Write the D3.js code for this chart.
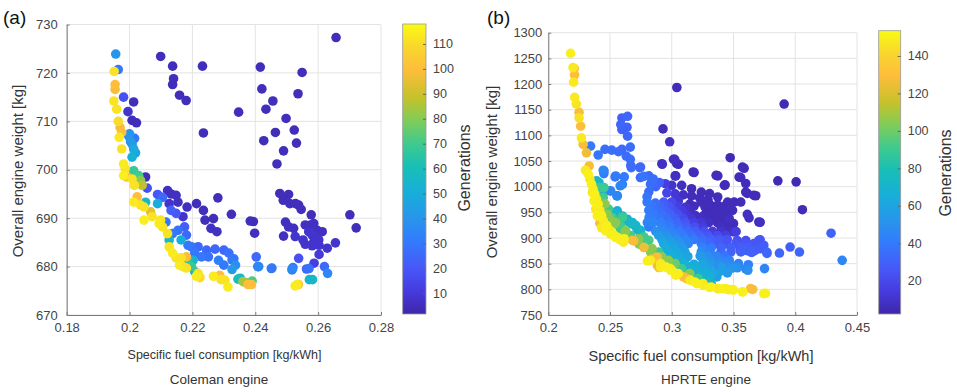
<!DOCTYPE html>
<html>
<head>
<meta charset="utf-8">
<script src="https://cdn.jsdelivr.net/npm/d3@7"></script>
<style>
  body { margin: 0; background: #fff; }
  svg { font-family: "Liberation Sans", Arial, sans-serif; }
</style>
</head>
<body>
<svg id="chart" width="957" height="392"></svg>
<script>
// [specific fuel consumption, overall weight, generation]
const colemanPoints = [
  [0.1956, 723.9, 40], [0.1964, 720.7, 30], [0.1951, 720.3, 112], [0.1954, 717.6, 100], [0.1954, 716.6, 98],
  [0.1950, 714.2, 112], [0.1981, 715.0, 18], [0.2013, 714.0, 5], [0.1995, 712.0, 8], [0.2008, 710.2, 5],
  [0.2022, 709.7, 5], [0.1959, 712.5, 112], [0.1964, 710.0, 110], [0.1967, 706.7, 114], [0.1975, 707.7, 100],
  [0.1970, 708.7, 98], [0.1997, 707.0, 35], [0.2008, 705.3, 38], [0.2013, 704.3, 48], [0.2008, 702.6, 52],
  [0.2000, 707.4, 40], [0.2019, 703.5, 45], [0.2003, 705.8, 42], [0.2016, 706.5, 30],
  [0.1975, 704.3, 112], [0.1981, 701.2, 114], [0.1986, 700.2, 112], [0.1981, 698.8, 115],
  [0.1991, 698.5, 100], [0.2008, 698.1, 112], [0.2013, 699.8, 68], [0.2029, 698.8, 70], [0.2035, 697.8, 80],
  [0.2040, 696.8, 88], [0.2051, 698.5, 5], [0.2056, 696.2, 18], [0.2015, 696.8, 112], [0.2013, 693.3, 114],
  [0.2024, 694.4, 100], [0.2051, 693.3, 55], [0.2035, 692.7, 112], [0.2046, 692.3, 112], [0.2046, 689.6, 115],
  [0.2067, 691.3, 95], [0.2072, 690.3, 112], [0.2089, 694.9, 20], [0.2089, 693.0, 50], [0.2105, 694.3, 25],
  [0.2121, 695.7, 6], [0.2132, 695.0, 6], [0.2148, 694.7, 6], [0.2126, 693.0, 8], [0.2154, 693.3, 6],
  [0.2132, 691.6, 22], [0.2148, 691.0, 20], [0.2170, 690.3, 8], [0.2183, 692.3, 6], [0.2213, 693.0, 5],
  [0.2281, 694.2, 5], [0.2235, 691.6, 5], [0.2240, 689.6, 5], [0.2267, 689.9, 5], [0.2259, 687.9, 6],
  [0.2278, 687.2, 6], [0.2324, 690.8, 5], [0.2099, 689.6, 112], [0.2094, 688.9, 114], [0.2116, 689.2, 30],
  [0.2105, 688.2, 112], [0.2121, 686.8, 112], [0.2126, 685.5, 55], [0.2137, 686.8, 30], [0.2154, 687.5, 28],
  [0.2175, 688.2, 22], [0.2181, 686.5, 25], [0.2164, 685.5, 50], [0.2186, 684.4, 30], [0.2197, 684.1, 28],
  [0.2218, 684.1, 25], [0.2245, 683.4, 25], [0.2272, 683.6, 25], [0.2300, 683.4, 25], [0.2316, 682.8, 28],
  [0.2332, 681.6, 30], [0.2337, 680.3, 38], [0.2326, 679.4, 42], [0.2300, 680.3, 30], [0.2283, 681.3, 32],
  [0.2251, 682.0, 28], [0.2229, 682.0, 30], [0.2207, 682.8, 30], [0.2126, 684.1, 112], [0.2137, 682.8, 114],
  [0.2148, 681.8, 112], [0.2164, 681.8, 112], [0.2181, 682.0, 100], [0.2186, 681.3, 65], [0.2159, 680.3, 114],
  [0.2170, 680.0, 112], [0.2181, 679.7, 112], [0.2197, 680.0, 68], [0.2202, 681.3, 52], [0.2207, 679.0, 55],
  [0.2218, 678.6, 112], [0.2224, 677.7, 110], [0.2213, 678.0, 114], [0.2267, 678.0, 114], [0.2287, 678.2, 100],
  [0.2303, 677.2, 112], [0.2313, 675.8, 114], [0.2291, 677.3, 112], [0.2345, 677.4, 60], [0.2361, 676.9, 85],
  [0.2377, 676.3, 100], [0.2388, 676.3, 100], [0.2390, 677.0, 72], [0.2370, 676.7, 80], [0.2403, 682.0, 25],
  [0.2408, 680.0, 28], [0.2398, 686.9, 6], [0.2394, 689.3, 5], [0.2451, 679.6, 30], [0.2517, 679.3, 32],
  [0.2520, 679.8, 30], [0.2527, 676.0, 114], [0.2537, 676.3, 100], [0.2571, 679.6, 28], [0.2582, 677.3, 55],
  [0.2538, 681.7, 18], [0.2657, 727.3, 5], [0.2416, 721.2, 5], [0.2549, 720.1, 5], [0.2421, 716.7, 5],
  [0.2536, 715.7, 5], [0.2456, 714.2, 5], [0.2434, 712.5, 5], [0.2347, 711.9, 5], [0.2498, 710.6, 5],
  [0.2524, 708.2, 5], [0.2464, 707.7, 5], [0.2427, 706.0, 5], [0.2531, 705.5, 5], [0.2490, 703.9, 5],
  [0.2469, 701.2, 5], [0.2478, 695.1, 5], [0.2506, 694.9, 5], [0.2489, 693.7, 5], [0.2510, 693.0, 5],
  [0.2528, 693.0, 5], [0.2538, 692.7, 5], [0.2546, 691.8, 5], [0.2578, 690.7, 5], [0.2701, 690.7, 5],
  [0.2721, 688.0, 5], [0.2384, 689.4, 5], [0.2496, 689.2, 6], [0.2506, 688.2, 6], [0.2522, 687.9, 6],
  [0.2490, 686.3, 6], [0.2527, 686.2, 8], [0.2559, 688.6, 6], [0.2576, 688.6, 6], [0.2586, 688.9, 6],
  [0.2597, 687.5, 6], [0.2613, 687.2, 6], [0.2570, 687.2, 8], [0.2581, 686.5, 8], [0.2591, 686.2, 8],
  [0.2602, 685.5, 8], [0.2586, 685.1, 8], [0.2552, 685.5, 8], [0.2559, 684.6, 8], [0.2581, 684.3, 8],
  [0.2603, 684.4, 8], [0.2629, 683.8, 8], [0.2655, 684.9, 8], [0.2603, 682.5, 10], [0.2587, 680.7, 12],
  [0.2517, 679.5, 35], [0.2563, 679.5, 25], [0.2620, 680.0, 25], [0.2630, 678.6, 35], [0.2453, 679.7, 28],
  [0.2411, 680.0, 35], [0.2572, 677.3, 55], [0.2533, 676.3, 114], [0.2352, 677.6, 55], [0.2326, 681.4, 30],
  [0.2099, 723.4, 5], [0.2137, 721.4, 5], [0.2232, 721.4, 5], [0.2140, 718.8, 5], [0.2137, 717.6, 5],
  [0.2159, 715.4, 5], [0.2180, 714.3, 5], [0.2235, 707.6, 5]
];

const hprtePoints = [
  // yellow front
  [0.2180, 1259.7, 150], [0.2200, 1232.0, 148], [0.2210, 1230.0, 132], [0.2213, 1217.7, 130], [0.2205, 1203.6, 148],
  [0.2213, 1173.9, 148], [0.2227, 1161.0, 146], [0.2249, 1144.9, 128], [0.2249, 1134.0, 145], [0.2262, 1117.8, 130],
  [0.2268, 1095.2, 148], [0.2282, 1082.3, 128], [0.2309, 1066.0, 126], [0.2331, 1040.4, 128], [0.2301, 1032.0, 148],
  [0.2323, 1024.3, 150], [0.2336, 1014.6, 148], [0.2350, 1004.9, 150], [0.2357, 988.4, 148], [0.2370, 972.2, 150],
  [0.2384, 956.0, 148], [0.2397, 943.1, 150], [0.2424, 930.1, 128], [0.2418, 928.8, 126], [0.2432, 920.0, 148],
  [0.2465, 913.9, 150], [0.2505, 907.4, 148], [0.2546, 900.9, 150], [0.2600, 894.5, 148], [0.2363, 995.2, 148],
  [0.2377, 985.5, 150], [0.2391, 975.9, 148], [0.2404, 966.2, 150], [0.2418, 953.3, 148], [0.2432, 943.6, 150],
  [0.2445, 934.0, 148], [0.2473, 924.3, 150], [0.2500, 914.6, 148], [0.2527, 906.9, 150], [0.2555, 901.7, 148],
  [0.2582, 896.5, 150], [0.2609, 892.0, 148], [0.2614, 898.7, 150], [0.2681, 895.5, 128], [0.2803, 855.6, 150],
  [0.2843, 858.8, 128], [0.2884, 846.0, 126], [0.2911, 843.0, 148], [0.2828, 856.5, 148], [0.2882, 863.0, 128],
  [0.2910, 850.1, 148], [0.2896, 842.4, 126], [0.2951, 843.6, 150], [0.2991, 837.2, 148], [0.3032, 827.5, 150],
  [0.2947, 843.6, 148], [0.3000, 837.1, 150], [0.3053, 830.6, 148], [0.3120, 820.9, 128], [0.3186, 814.4, 150],
  [0.3253, 811.1, 148], [0.3319, 804.6, 150], [0.3372, 801.4, 148], [0.3439, 801.4, 150], [0.3492, 799.5, 148],
  [0.3572, 794.9, 150], [0.3638, 801.4, 128], [0.3745, 791.7, 150], [0.2987, 840.4, 148], [0.3041, 830.8, 150],
  [0.3095, 824.3, 128], [0.3149, 817.9, 148], [0.3203, 811.4, 150], [0.3257, 808.2, 148], [0.3305, 803.7, 150],
  [0.3378, 801.7, 148], [0.3420, 801.0, 150], [0.3460, 799.5, 148], [0.3500, 798.5, 150], [0.3575, 795.3, 148],
  [0.3656, 799.8, 128], [0.3759, 792.1, 150],
  // green / teal band
  [0.2391, 1011.3, 70], [0.2413, 998.4, 90], [0.2411, 1007.9, 72], [0.2451, 998.2, 90], [0.2411, 991.7, 70],
  [0.2432, 985.5, 72], [0.2438, 975.5, 92], [0.2445, 979.0, 90], [0.2451, 959.3, 70], [0.2459, 966.2, 105],
  [0.2478, 946.3, 105], [0.2486, 956.5, 90], [0.2514, 950.0, 70], [0.2519, 939.8, 92], [0.2546, 930.1, 105],
  [0.2548, 947.4, 70], [0.2555, 943.6, 72], [0.2495, 937.2, 105], [0.2536, 927.5, 105], [0.2586, 923.6, 92],
  [0.2582, 917.8, 90], [0.2595, 937.2, 70], [0.2601, 940.9, 90], [0.2623, 911.4, 105], [0.2627, 913.9, 105],
  [0.2637, 934.0, 70], [0.2654, 931.2, 72], [0.2664, 904.9, 92], [0.2667, 904.2, 90], [0.2677, 927.5, 70],
  [0.2694, 894.5, 126], [0.2707, 924.7, 72], [0.2718, 917.8, 70], [0.2732, 898.5, 105], [0.2735, 888.0, 105],
  [0.2746, 911.4, 70], [0.2746, 888.8, 90], [0.2747, 915.0, 72], [0.2773, 882.4, 105], [0.2775, 881.5, 126],
  [0.2774, 902.0, 90], [0.2814, 895.5, 92], [0.2828, 872.7, 105], [0.2840, 879.3, 105], [0.2894, 872.8, 90],
  [0.2920, 863.1, 105], [0.2973, 856.6, 105], [0.3027, 850.0, 100], [0.3080, 840.3, 90], [0.3146, 830.6, 105],
  [0.3213, 820.9, 90], [0.3279, 814.4, 75], [0.2559, 952.8, 65], [0.2600, 943.0, 65], [0.2640, 936.6, 65],
  [0.2681, 930.1, 65], [0.2708, 923.6, 62], [0.2735, 913.9, 62], [0.2762, 901.0, 65], [0.2802, 930.1, 45],
  [0.2816, 939.8, 42],
  // blue branch
  [0.2342, 1079.0, 40], [0.2404, 1061.7, 38], [0.2459, 1072.6, 35], [0.2514, 1071.3, 35], [0.2568, 1068.1, 35],
  [0.2596, 1072.6, 32], [0.2631, 1059.7, 35], [0.2664, 1053.3, 35], [0.2672, 1037.2, 35], [0.2740, 1037.2, 33],
  [0.2746, 1017.8, 35], [0.2814, 1021.0, 33], [0.2828, 1004.9, 35], [0.2596, 1133.9, 30], [0.2642, 1137.1, 32],
  [0.2587, 1121.0, 32], [0.2637, 1115.8, 30], [0.2596, 1111.3, 30], [0.2642, 1098.4, 32], [0.2664, 1077.1, 35],
  [0.2445, 1032.0, 45], [0.2450, 1025.5, 40], [0.2541, 1019.1, 40], [0.2615, 1019.1, 40], [0.2582, 1001.7, 45],
  [0.2500, 992.0, 45], [0.2555, 982.3, 45], [0.2451, 1030.6, 38], [0.2546, 1020.8, 40], [0.2600, 1004.6, 42],
  [0.2505, 991.7, 45], [0.2559, 982.0, 45], [0.2668, 1041.5, 35], [0.2747, 1038.3, 32],
  // scattered early generations
  [0.3041, 1193.2, 6], [0.2929, 1112.6, 6], [0.2983, 1087.5, 8], [0.2923, 1043.6, 6], [0.3024, 1053.3, 8],
  [0.3032, 1021.0, 8], [0.3910, 1161.0, 5], [0.3473, 1056.5, 5], [0.3586, 1035.9, 6], [0.3859, 1011.4, 5],
  [0.4007, 1009.4, 5], [0.4058, 955.2, 6], [0.4290, 909.4, 30], [0.4380, 856.5, 45], [0.3958, 882.4, 28],
  [0.4034, 872.7, 32], [0.3872, 870.7, 32], [0.3770, 872.7, 30], [0.3716, 879.1, 28], [0.3675, 875.9, 28],
  [0.3648, 872.0, 30], [0.3602, 875.9, 30], [0.3554, 875.9, 28], [0.3716, 896.5, 25], [0.3521, 912.6, 15],
  [0.3716, 930.7, 8], [0.3626, 939.1, 8], [0.3612, 946.0, 8], [0.3680, 982.3, 6], [0.3612, 986.8, 6],
  [0.3599, 1006.2, 6], [0.3558, 1017.8, 6], [0.3432, 1003.6, 6], [0.3373, 1021.0, 6], [0.3181, 1027.5, 6],
  [0.3027, 1021.0, 8], [0.3054, 1043.6, 6], [0.3014, 1053.3, 6], [0.3751, 840.4, 45], [0.3616, 837.2, 50],
  [0.3405, 843.6, 55], [0.3486, 841.0, 52], [0.3530, 842.0, 50], [0.3450, 832.0, 55], [0.3365, 824.3, 58],
  [0.2920, 1044.8, 8], [0.3040, 1044.8, 6], [0.3173, 1028.6, 6], [0.3359, 1022.1, 6], [0.3572, 1038.3, 5],
  [0.3545, 1018.8, 6], [0.3599, 989.6, 6], [0.3665, 983.1, 6], [0.3426, 1002.6, 6], [0.2841, 1012.3, 32],
  [0.2947, 1005.8, 15], [0.3000, 1002.6, 10], [0.3080, 1002.6, 8], [0.3160, 996.1, 6], [0.3239, 989.6, 6],
  [0.3306, 986.4, 6], [0.3372, 979.9, 6], [0.3452, 970.1, 6], [0.3505, 970.1, 6], [0.3559, 970.1, 6],
  [0.3492, 953.9, 6], [0.3465, 937.7, 8], [0.3505, 911.7, 10], [0.3705, 931.2, 6], [0.3705, 895.5, 22],
  // dense cloud
  [0.2773, 1020.0, 38], [0.2850, 1015.0, 35], [0.2900, 1008.0, 30], [0.2870, 1000.0, 32],
  [0.2814, 990.0, 35], [0.2960, 988.0, 18], [0.3027, 986.0, 12], [0.3093, 984.0, 8], [0.3160, 982.0, 6],
  [0.3226, 978.0, 6], [0.3293, 975.0, 6], [0.2800, 980.0, 38],
  [0.2800, 970.0, 40], [0.2867, 968.0, 35], [0.2934, 970.0, 28], [0.3000, 970.0, 20], [0.3053, 972.0, 12],
  [0.3146, 966.0, 6], [0.3239, 970.0, 6], [0.3306, 966.0, 6], [0.3372, 964.0, 6], [0.3426, 962.0, 6],
  [0.2840, 962.0, 38], [0.2907, 962.0, 32], [0.2975, 962.0, 25], [0.3040, 962.0, 16], [0.3110, 960.0, 10],
  [0.3180, 962.0, 6], [0.3270, 960.0, 6], [0.3340, 958.0, 6], [0.3400, 956.0, 6], [0.3470, 962.0, 6],
  [0.2814, 954.0, 40], [0.2880, 954.0, 35], [0.2947, 954.0, 30], [0.3013, 954.0, 22], [0.3080, 954.0, 14],
  [0.3146, 954.0, 8], [0.3293, 948.0, 6], [0.3359, 954.0, 6], [0.3426, 950.0, 6],
  [0.2850, 946.0, 40], [0.2920, 946.0, 36], [0.2990, 946.0, 30], [0.3050, 946.0, 22], [0.3120, 946.0, 12],
  [0.3190, 944.0, 8], [0.3260, 944.0, 6], [0.3320, 944.0, 6], [0.3390, 946.0, 6], [0.3440, 944.0, 6],
  [0.2827, 938.0, 42], [0.2894, 938.0, 38], [0.2960, 938.0, 34], [0.3027, 938.0, 28], [0.3093, 938.0, 20],
  [0.3160, 938.0, 12], [0.3239, 940.0, 8], [0.3346, 938.0, 6], [0.3412, 938.0, 6],
  [0.2850, 930.0, 45], [0.2910, 930.0, 42], [0.2975, 930.0, 38], [0.3040, 930.0, 32], [0.3110, 930.0, 25],
  [0.3175, 930.0, 16], [0.3240, 930.0, 12], [0.3300, 930.0, 8], [0.3370, 930.0, 6], [0.3430, 930.0, 6],
  [0.3500, 928.0, 6],
  [0.2814, 921.5, 40], [0.2920, 921.5, 45], [0.2987, 921.5, 40], [0.3053, 921.5, 34], [0.3120, 921.5, 28],
  [0.3186, 921.5, 22], [0.3253, 921.5, 14], [0.3399, 921.5, 8], [0.3465, 921.5, 6],
  [0.2870, 913.0, 50], [0.2930, 913.0, 47], [0.2990, 913.0, 44], [0.3060, 913.0, 40], [0.3130, 913.0, 34],
  [0.3190, 913.0, 28], [0.3260, 913.0, 22], [0.3330, 913.0, 14], [0.3400, 913.0, 10], [0.3470, 913.0, 8],
  [0.2894, 905.0, 55], [0.2960, 905.0, 50], [0.3027, 905.0, 45], [0.3093, 905.0, 40], [0.3160, 905.0, 35],
  [0.3226, 905.0, 30], [0.3293, 905.0, 25], [0.3372, 905.0, 20], [0.3439, 905.0, 15],
  [0.2920, 897.0, 58], [0.2980, 897.0, 54], [0.3040, 897.0, 50], [0.3110, 897.0, 45], [0.3180, 897.0, 40],
  [0.3250, 897.0, 34], [0.3320, 897.0, 30], [0.3390, 897.0, 26], [0.3450, 897.0, 24], [0.3530, 895.0, 22],
  [0.3600, 895.0, 22],
  [0.2934, 889.0, 62], [0.3000, 889.0, 58], [0.3067, 889.0, 52], [0.3133, 889.0, 46], [0.3239, 889.0, 38],
  [0.3306, 889.0, 32], [0.3372, 889.0, 28], [0.3439, 889.0, 25], [0.3519, 889.0, 25], [0.3599, 889.0, 25],
  [0.3665, 889.0, 25], [0.3745, 886.0, 28],
  [0.2950, 881.0, 64], [0.3020, 881.0, 60], [0.3085, 881.0, 55], [0.3250, 881.0, 44], [0.3320, 881.0, 40],
  [0.3400, 881.0, 32], [0.3480, 881.0, 30], [0.3560, 881.0, 28], [0.3620, 882.0, 28],
  [0.2973, 873.0, 65], [0.3040, 873.0, 62], [0.3106, 873.0, 58], [0.3239, 873.0, 48], [0.3306, 873.0, 42],
  [0.3399, 873.0, 32], [0.3479, 873.0, 30], [0.3559, 873.0, 30], [0.3638, 873.0, 30], [0.3771, 870.0, 32],
  [0.3000, 865.0, 66], [0.3060, 865.0, 63], [0.3130, 864.0, 60], [0.3230, 865.0, 54], [0.3290, 865.0, 50],
  [0.3360, 865.0, 45], [0.3430, 865.0, 38],
  [0.3000, 857.0, 68], [0.3067, 857.0, 65], [0.3253, 857.0, 56], [0.3319, 857.0, 50], [0.3399, 857.0, 44],
  [0.3465, 857.0, 42],
  [0.3050, 849.0, 68], [0.3110, 849.0, 66], [0.3180, 849.0, 63], [0.3250, 849.0, 60], [0.3310, 849.0, 55],
  [0.3380, 851.0, 48], [0.3450, 851.0, 46], [0.3540, 850.0, 44], [0.3620, 848.0, 42],
  [0.3080, 840.0, 70], [0.3146, 840.0, 68], [0.3213, 840.0, 65], [0.3279, 840.0, 60], [0.3372, 845.0, 50],
  [0.3439, 845.0, 48], [0.3505, 845.0, 46], [0.3599, 840.0, 44],
  [0.3130, 832.0, 70], [0.3200, 832.0, 68], [0.3270, 832.0, 65], [0.3330, 832.0, 62], [0.3400, 836.0, 58],
  [0.3173, 824.0, 70], [0.3239, 824.0, 68], [0.3306, 824.0, 66], [0.3220, 818.0, 70], [0.3290, 818.0, 68],
  [0.3279, 811.0, 70], [0.3319, 811.0, 68]
];

const colemanXTicks = [0.18, 0.2, 0.22, 0.24, 0.26, 0.28];
const colemanYTicks = [670, 680, 690, 700, 710, 720, 730];
const colemanGenTicks = [10, 20, 30, 40, 50, 60, 70, 80, 90, 100, 110];
const hprteXTicks = [0.2, 0.25, 0.3, 0.35, 0.4, 0.45];
const hprteYTicks = [750, 800, 850, 900, 950, 1000, 1050, 1100, 1150, 1200, 1250, 1300];
const hprteGenTicks = [20, 40, 60, 80, 100, 120, 140];

// parula colormap (64-step table), sampled: position in 0..63, colour
const parulaPos = [0, 5, 10, 16, 21, 26, 32, 37, 42, 47, 53, 58, 63];
const parulaHex = ['#3e26a8', '#463bde', '#4758f8', '#327cfc', '#2796eb', '#18addb', '#18bfb6',
                   '#3fca8e', '#80cc59', '#c5c22a', '#febd3c', '#f9d62d', '#f9fb14'];

const svg = d3.select('#chart');

function drawPanel(p) {
  const x = d3.scaleLinear().domain(p.xDomain).range([p.left, p.right]);
  const y = d3.scaleLinear().domain(p.yDomain).range([p.bottom, p.top]);
  const t = d3.scaleLinear().domain(p.genDomain).range([0, 63]);
  const color = d3.scaleLinear().domain(parulaPos).range(parulaHex).interpolate(d3.interpolateRgb);

  const g = svg.append('g');

  // grid
  g.selectAll('.vg').data(p.xTicks).enter().append('line')
    .attr('x1', d => x(d)).attr('x2', d => x(d))
    .attr('y1', p.top).attr('y2', p.bottom)
    .attr('stroke', '#e3e3e3').attr('stroke-width', 1);
  g.selectAll('.hg').data(p.yTicks).enter().append('line')
    .attr('x1', p.left).attr('x2', p.right)
    .attr('y1', d => y(d)).attr('y2', d => y(d))
    .attr('stroke', '#e3e3e3').attr('stroke-width', 1);

  // points, earlier generations underneath
  const pts = p.points.slice().sort((a, b) => a[2] - b[2]);
  g.selectAll('circle').data(pts).enter().append('circle')
    .attr('cx', d => x(d[0]))
    .attr('cy', d => y(d[1]))
    .attr('r', 4.8)
    .attr('fill', d => color(t(d[2])));

  // axes
  const fmt = d => String(+d.toFixed(2));
  const xAxis = g.append('g')
    .attr('transform', `translate(0,${p.bottom})`)
    .call(d3.axisBottom(x).tickValues(p.xTicks).tickFormat(fmt)
      .tickSizeInner(-3).tickSizeOuter(0).tickPadding(p.xPad));
  const yAxis = g.append('g')
    .attr('transform', `translate(${p.left},0)`)
    .call(d3.axisLeft(y).tickValues(p.yTicks).tickFormat(fmt)
      .tickSizeInner(-3).tickSizeOuter(0).tickPadding(p.yPad));
  [xAxis, yAxis].forEach(a => {
    a.select('.domain').attr('stroke', '#7a7a7a');
    a.selectAll('.tick line').attr('stroke', '#7a7a7a');
    a.selectAll('text').attr('fill', '#444').style('font-size', '13px').style('font-family', 'inherit');
  });

  // colorbar
  const gradId = 'grad' + p.id;
  const grad = svg.append('defs').append('linearGradient')
    .attr('id', gradId).attr('x1', 0).attr('x2', 0).attr('y1', 1).attr('y2', 0);
  parulaHex.forEach((c, i) => {
    grad.append('stop').attr('offset', parulaPos[i] / 63).attr('stop-color', c);
  });
  g.append('rect')
    .attr('x', p.cbLeft).attr('y', p.cbTop)
    .attr('width', p.cbRight - p.cbLeft).attr('height', p.cbBottom - p.cbTop)
    .attr('fill', `url(#${gradId})`)
    .attr('stroke', '#9a9a9a').attr('stroke-width', 0.8);
  const cb = d3.scaleLinear().domain(p.genDomain).range([p.cbBottom, p.cbTop]);
  const cbAxis = g.append('g')
    .attr('transform', `translate(${p.cbRight},0)`)
    .call(d3.axisRight(cb).tickValues(p.genTicks).tickSizeInner(-3).tickSizeOuter(0).tickPadding(7));
  cbAxis.select('.domain').remove();
  cbAxis.selectAll('.tick line').attr('stroke', '#666');
  cbAxis.selectAll('text').attr('fill', '#444').style('font-size', '12.5px').style('font-family', 'inherit');

  // labels
  g.append('text')
    .attr('transform', `translate(${p.yLabelX},${p.yLabelY}) rotate(-90)`)
    .attr('text-anchor', 'middle').attr('fill', '#333')
    .style('font-size', '15px')
    .text('Overall engine weight [kg]');
  g.append('text')
    .attr('x', p.xLabelX).attr('y', p.xLabelY)
    .attr('text-anchor', 'middle').attr('fill', '#333')
    .style('font-size', p.xLabelSize + 'px')
    .text('Specific fuel consumption [kg/kWh]');
  g.append('text')
    .attr('x', p.titleX).attr('y', 384)
    .attr('text-anchor', 'middle').attr('fill', '#333')
    .style('font-size', '13.5px')
    .text(p.title);
  g.append('text')
    .attr('transform', `translate(${p.genLabelX},${p.genLabelY}) rotate(-90)`)
    .attr('text-anchor', 'middle').attr('fill', '#333')
    .style('font-size', '16px')
    .text('Generations');
  g.append('text')
    .attr('x', p.tagX).attr('y', 24)
    .attr('fill', '#111')
    .style('font-size', '19px')
    .text(p.tag);
}

drawPanel({
  id: 'a', tag: '(a)', tagX: 3, title: 'Coleman engine', titleX: 219,
  points: colemanPoints,
  xDomain: [0.18, 0.28], yDomain: [670, 730], genDomain: [1.7, 118],
  xTicks: colemanXTicks, yTicks: colemanYTicks, genTicks: colemanGenTicks,
  left: 66.7, right: 381, top: 24.5, bottom: 315,
  xPad: 8, yPad: 9,
  cbLeft: 402.7, cbRight: 426, cbTop: 24, cbBottom: 314,
  yLabelX: 23, yLabelY: 171,
  xLabelX: 224.5, xLabelY: 359, xLabelSize: 12.5,
  genLabelX: 470, genLabelY: 168
});

drawPanel({
  id: 'b', tag: '(b)', tagX: 487, title: 'HPRTE engine', titleX: 706,
  points: hprtePoints,
  xDomain: [0.2, 0.45], yDomain: [750, 1300], genDomain: [2.2, 153.5],
  xTicks: hprteXTicks, yTicks: hprteYTicks, genTicks: hprteGenTicks,
  left: 548.3, right: 857, top: 32.7, bottom: 315,
  xPad: 8, yPad: 6,
  cbLeft: 878.7, cbRight: 900.7, cbTop: 30.7, cbBottom: 314,
  yLabelX: 497, yLabelY: 172,
  xLabelX: 701, xLabelY: 361, xLabelSize: 14.5,
  genLabelX: 951, genLabelY: 173
});
</script>
</body>
</html>
